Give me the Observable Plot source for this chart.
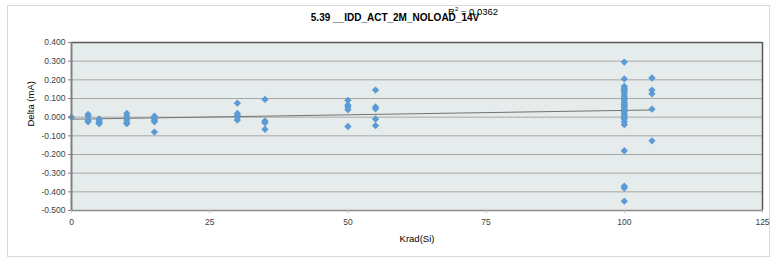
<!DOCTYPE html>
<html>
<head>
<meta charset="utf-8">
<script src="https://cdn.jsdelivr.net/npm/d3@7"></script>
<script src="https://cdn.jsdelivr.net/npm/@observablehq/plot@0.6"></script>
<style>
  html, body { margin: 0; padding: 0; background: #fff; }
  #wrap { position: relative; width: 774px; height: 260px; font-family: "Liberation Sans", Arial, sans-serif; }
  #border { position: absolute; left: 7px; top: 5px; width: 763px; height: 252px; border: 1px solid #d9d9d9; box-sizing: border-box; }
  #chart { position: absolute; left: 0; top: 0; }
  #title { position: absolute; left: 0; width: 790px; top: 12px; text-align: center; font-weight: bold; font-size: 10px; color: #000; }
  #r2 { position: absolute; left: 448px; top: 6px; font-size: 9.5px; color: #000; }
</style>
</head>
<body>
<div id="wrap">
  <div id="border"></div>
  <div id="chart"></div>
  <div id="title">5.39 __IDD_ACT_2M_NOLOAD_14V</div>
  <div id="r2">R<sup style="font-size:6px">2</sup> = 0.0362</div>
</div>
<script>
const krad = [0, 3, 5, 10, 15, 30, 35, 50, 55, 100, 105];
const deltaAt0   = [0.0];
const deltaAt3   = [0.015, 0.005, -0.015, -0.025];
const deltaAt5   = [-0.01, -0.02, -0.03, -0.035];
const deltaAt10  = [0.02, 0.005, -0.015, -0.03, -0.035];
const deltaAt15  = [0.005, -0.005, -0.015, -0.025, -0.08];
const deltaAt30  = [0.075, 0.02, 0.01, 0.0, -0.015];
const deltaAt35  = [0.095, -0.02, -0.03, -0.065];
const deltaAt50  = [0.09, 0.065, 0.055, 0.04, -0.05];
const deltaAt55  = [0.145, 0.055, 0.045, -0.01, -0.045];
const deltaAt100 = [0.295, 0.205, 0.165, 0.155, 0.15, 0.14, 0.135, 0.12, 0.11, 0.10, 0.095, 0.085, 0.075, 0.07, 0.065, 0.06, 0.05, 0.04, 0.03, 0.02, 0.01, 0.0, -0.01, -0.025, -0.04, -0.18, -0.37, -0.38, -0.45];
const deltaAt105 = [0.21, 0.145, 0.125, 0.043, -0.127];
const deltas = [deltaAt0, deltaAt3, deltaAt5, deltaAt10, deltaAt15, deltaAt30, deltaAt35, deltaAt50, deltaAt55, deltaAt100, deltaAt105];
const xTicks = [0, 25, 50, 75, 100, 125];
const yTicks = [0.4, 0.3, 0.2, 0.1, 0.0, -0.1, -0.2, -0.3, -0.4, -0.5];

const points = krad.flatMap((k, i) => deltas[i].map(v => ({krad: k, delta: v})));

const fmt = d => (Math.abs(d) < 1e-9 ? 0 : d).toFixed(3);

const chart = Plot.plot({
  width: 774,
  height: 260,
  marginLeft: 71,
  marginRight: 12,
  marginTop: 42,
  marginBottom: 50,
  style: { fontFamily: "'Liberation Sans', Arial, sans-serif", fontSize: "8.5px", color: "#404040", background: "transparent" },
  x: { domain: [0, 125], ticks: xTicks, label: null },
  y: { domain: [-0.5, 0.4], ticks: yTicks, label: null },
  marks: [
    Plot.frame({ fill: "#e6ebeb", stroke: null }),
    Plot.gridY(yTicks, { stroke: "#a8a8a8", strokeOpacity: 1, strokeWidth: 1 }),
    Plot.linearRegressionY(points, { x: "krad", y: "delta", ci: 0, stroke: "#737373", strokeWidth: 1 }),
    Plot.dot(points, { x: "krad", y: "delta", symbol: "diamond2", r: 3.3, fill: "#5b9bd5", stroke: null }),
    Plot.ruleY([0.4], { stroke: "#595959", strokeWidth: 1.5 }),
    Plot.ruleX([125], { stroke: "#595959", strokeWidth: 1.5 }),
    Plot.ruleX([0], { stroke: "#808080", strokeWidth: 2 }),
    Plot.ruleY([-0.5], { stroke: "#8c8c8c", strokeWidth: 1.5 }),
    Plot.axisY(yTicks, { tickFormat: fmt, tickSize: 3, tickPadding: 3, stroke: "#808080", fill: "#404040", label: null }),
    Plot.axisX(xTicks, { tickSize: 3, tickPadding: 5, stroke: "#bfbfbf", fill: "#404040", label: null }),
    Plot.text(["Delta (mA)"], { frameAnchor: "left", dx: -41, rotate: -90, fontSize: 9.5, fill: "#000" }),
    Plot.text(["Krad(Si)"], { frameAnchor: "bottom", dy: 31, dx: 0, fontSize: 9.5, fill: "#000" })
  ]
});
document.getElementById("chart").appendChild(chart);
</script>
</body>
</html>
